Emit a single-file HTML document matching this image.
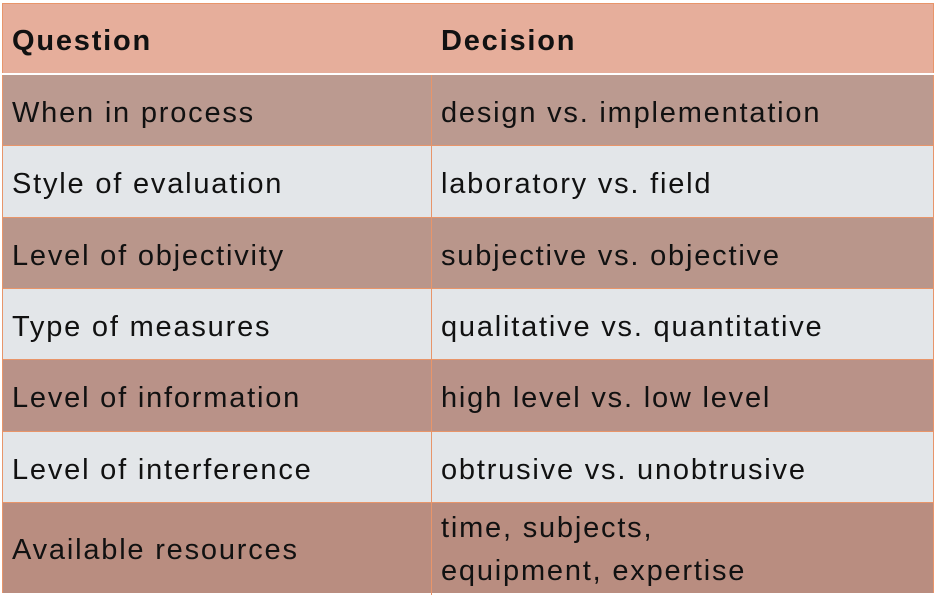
<!DOCTYPE html>
<html><head><style>
body{margin:0;width:936px;height:589px;overflow:hidden;background:#fff;font-family:"Liberation Sans",sans-serif;}
.t{position:absolute;left:2px;top:3px;width:932px;}
.r{position:absolute;left:0;width:932px;border-bottom:1px solid #e8956a;box-sizing:border-box;border-left:1px solid #e8956a;border-right:1px solid #e8956a;}
.c{position:absolute;top:6px;bottom:0;display:flex;align-items:center;font-size:29px;letter-spacing:1.8px;color:#111;}
.a{left:9px}
.b2{left:438px}
.v{position:absolute;left:429px;top:72px;width:1px;height:520px;background:#e8956a;}
</style></head><body>
<div class="t">
<div class="r" style="top:0;height:70px;background:#e6ae9b;border-top:1px solid #e8956a;border-bottom:none"><div class="c a" style="font-weight:bold">Question</div><div class="c b2" style="font-weight:bold">Decision</div></div>
<div style="position:absolute;top:70px;left:0;width:932px;height:2px;background:#fff"></div>
<div class="r" style="top:72px;height:71px;background:#bb9a90"><div class="c a">When in process</div><div class="c b2">design vs. implementation</div></div>
<div class="r" style="top:143px;height:72px;background:#e3e6e9"><div class="c a">Style of evaluation</div><div class="c b2">laboratory vs. field</div></div>
<div class="r" style="top:215px;height:71px;background:#b9968b"><div class="c a">Level of objectivity</div><div class="c b2">subjective vs. objective</div></div>
<div class="r" style="top:286px;height:71px;background:#e3e6e9"><div class="c a">Type of measures</div><div class="c b2">qualitative vs. quantitative</div></div>
<div class="r" style="top:357px;height:72px;background:#b99288"><div class="c a">Level of information</div><div class="c b2">high level vs. low level</div></div>
<div class="r" style="top:429px;height:71px;background:#e3e6e9"><div class="c a">Level of interference</div><div class="c b2">obtrusive vs. unobtrusive</div></div>
<div class="r" style="top:500px;height:90px;background:#b98d80;border-bottom:none"><div class="c a" style="bottom:2px">Available resources</div><div class="c b2" style="top:4px;bottom:auto;display:block;line-height:43px">time, subjects,<br>equipment, expertise</div></div>
<div class="v"></div>
</div>
</body></html>
